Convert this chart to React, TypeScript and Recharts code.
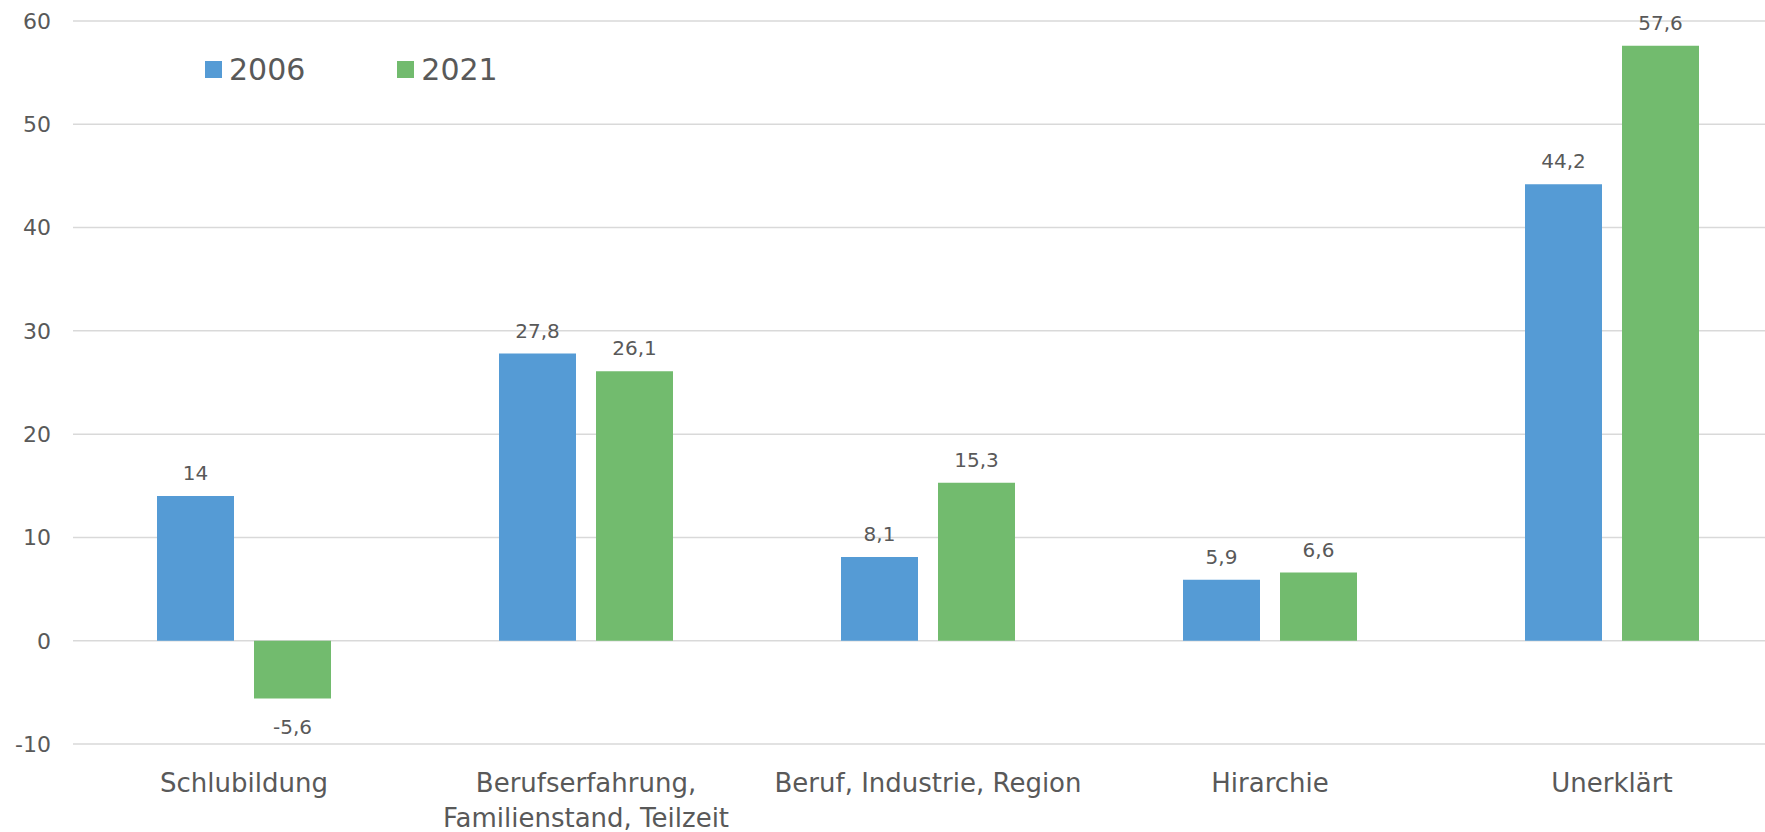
import React from "react";
import { BarChart, Bar, XAxis, YAxis, CartesianGrid, LabelList, Legend } from "recharts";

// Kategorien (Zeilenumbruch mit \n)
const categories = [
    "Schlubildung",
    "Berufserfahrung,\nFamilienstand, Teilzeit",
    "Beruf, Industrie, Region",
    "Hirarchie",
    "Unerklärt",
];

const values2006 = [14, 27.8, 8.1, 5.9, 44.2];
const values2021 = [-5.6, 26.1, 15.3, 6.6, 57.6];

const yTicks = [-10, 0, 10, 20, 30, 40, 50, 60];

const seriesNames = ["2006", "2021"];
const seriesColors = ["#559BD5", "#72BB6E"];

const data = categories.map((name, i) => ({
    name,
    v2006: values2006[i],
    v2021: values2021[i],
}));

const FONT = "'DejaVu Sans', sans-serif";
const TEXT = "#595959";

const fmt = (v: number) => String(v).replace(".", ",");

// Beschriftung der x-Achse, mehrzeilig
const CategoryTick = (props: any) => {
    const { x, y, payload } = props;
    const lines = String(payload.value).split("\n");
    return (
        <g>
            {lines.map((line: string, i: number) => (
                <text
                    key={i}
                    x={x}
                    y={y + 48 + i * 35}
                    textAnchor="middle"
                    fill={TEXT}
                    fontSize={26}
                    fontFamily={FONT}
                >
                    {line}
                </text>
            ))}
        </g>
    );
};

// Wertelabel über bzw. unter dem Balken
const ValueLabel = (props: any) => {
    const { x, y, width, height, value } = props;
    const top = Math.min(y, y + height);
    const bottom = Math.max(y, y + height);
    const ty = value >= 0 ? top - 16 : bottom + 35;
    return (
        <text x={x + width / 2} y={ty} textAnchor="middle" fill={TEXT} fontSize={20} fontFamily={FONT}>
            {fmt(value)}
        </text>
    );
};

const LegendContent = () => (
    <div style={{ display: "flex", alignItems: "center", fontFamily: FONT, color: TEXT, fontSize: 30 }}>
        {seriesNames.map((s, i) => (
            <div key={s} style={{ display: "flex", alignItems: "center", marginRight: i === 0 ? 92 : 0 }}>
                <div style={{ width: 17, height: 17, background: seriesColors[i], marginRight: 7 }} />
                <span>{s}</span>
            </div>
        ))}
    </div>
);

const App: React.FC = () => {
    return (
        <div style={{ position: "absolute", left: 0, top: 0, width: 1765, height: 832, overflow: "hidden", background: "#fff" }}>
            <BarChart
                width={1783}
                height={832}
                data={data}
                margin={{ top: 21, right: 0, bottom: 0, left: 0 }}
                barSize={77}
                barGap={20}
            >
                <CartesianGrid vertical={false} stroke="#D9D9D9" strokeWidth={1.5} />
                <XAxis
                    dataKey="name"
                    axisLine={false}
                    tickLine={false}
                    tickSize={0}
                    tickMargin={0}
                    height={88}
                    interval={0}
                    tick={<CategoryTick />}
                />
                <YAxis
                    domain={[-10, 60]}
                    ticks={yTicks}
                    width={73}
                    axisLine={false}
                    tickLine={false}
                    tickSize={0}
                    tickMargin={22}
                    tick={{ fill: TEXT, fontSize: 22, fontFamily: FONT }}
                />
                {/* mittig verankert, damit kein Platz oben reserviert wird */}
                <Legend
                    content={<LegendContent />}
                    verticalAlign="middle"
                    wrapperStyle={{ position: "absolute", left: 205, top: 52, width: "auto" }}
                />
                <Bar dataKey="v2006" name={seriesNames[0]} fill={seriesColors[0]} isAnimationActive={false}>
                    <LabelList dataKey="v2006" content={<ValueLabel />} />
                </Bar>
                <Bar dataKey="v2021" name={seriesNames[1]} fill={seriesColors[1]} isAnimationActive={false}>
                    <LabelList dataKey="v2021" content={<ValueLabel />} />
                </Bar>
            </BarChart>
        </div>
    );
};

export default App;
